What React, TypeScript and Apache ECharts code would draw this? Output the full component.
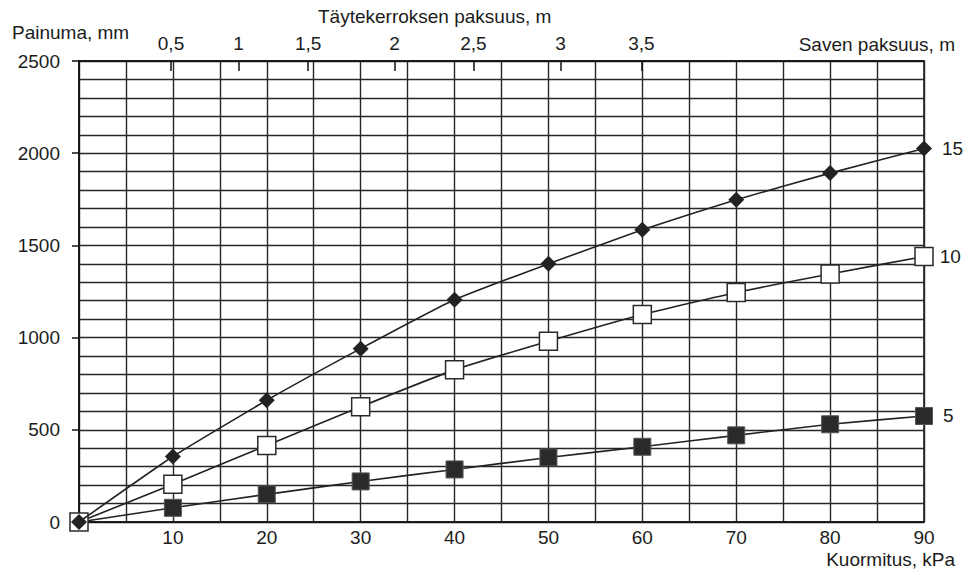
import { useEffect, useRef } from 'react';
import * as echarts from 'echarts';

// Load (kPa) at which the settlement was computed
const loads = [0, 10, 20, 30, 40, 50, 60, 70, 80, 90];

// Settlement (mm) for clay layer thickness 15 m, 10 m and 5 m
const settlement15 = [0, 355, 660, 940, 1205, 1400, 1585, 1748, 1892, 2025];
const settlement10 = [0, 205, 415, 625, 825, 980, 1125, 1245, 1345, 1440];
const settlement5 = [0, 77, 150, 220, 285, 350, 408, 470, 530, 575];

// Fill thickness (m) scale along the top edge, placed at the matching load
const fillTickLoads = [9.8, 17, 24.4, 33.6, 42, 51.3, 59.9];
const fillTickLabels = ['0,5', '1', '1,5', '2', '2,5', '3', '3,5'];

// Labelled values on the axes
const loadLabels = [10, 20, 30, 40, 50, 60, 70, 80, 90];

const FONT = "'Liberation Sans', Arial, Helvetica, sans-serif";
const INK = '#1c1c1c';
const GRIDLINE = '#262626';
const FS = 19;

function pairs(values: number[]) {
  return loads.map((x, i) => {
    if (i === loads.length - 1) {
      return { value: [x, values[i]], label: { show: true } };
    }
    return { value: [x, values[i]] };
  });
}

export default function App() {
  const ref = useRef<HTMLDivElement>(null);

  useEffect(() => {
    document.body.style.margin = '0';
    const chart = echarts.init(ref.current!, null, { renderer: 'svg' });

    const textStyle = { fontFamily: FONT, fontSize: FS, color: INK };
    const plain = (v: number) => String(v);

    chart.setOption({
      animation: false,
      backgroundColor: '#ffffff',
      textStyle: { fontFamily: FONT },
      grid: {
        left: 79,
        right: 40,
        top: 61,
        bottom: 50,
        show: true,
        borderColor: '#111111',
        borderWidth: 1.5,
        backgroundColor: 'transparent',
      },
      xAxis: [
        {
          type: 'value',
          position: 'bottom',
          min: 0,
          max: 90,
          interval: 5,
          axisLine: { show: true, onZero: false, lineStyle: { color: '#111111', width: 1.5 } },
          axisTick: { show: false },
          axisLabel: {
            customValues: loadLabels,
            margin: 6,
            formatter: plain,
            ...textStyle,
          },
          splitLine: { show: true, lineStyle: { color: GRIDLINE, width: 1.4 } },
        },
        {
          type: 'value',
          position: 'top',
          min: 0,
          max: 90,
          axisLine: { show: true, onZero: false, lineStyle: { color: '#111111', width: 1.5 } },
          axisTick: {
            show: true,
            customValues: fillTickLoads,
            inside: true,
            length: 10,
            lineStyle: { color: '#111111', width: 1.5 },
          },
          axisLabel: {
            customValues: fillTickLoads,
            margin: 8,
            formatter: (v: number) => {
              let best = 0;
              fillTickLoads.forEach((t, i) => {
                if (Math.abs(t - v) < Math.abs(fillTickLoads[best] - v)) best = i;
              });
              return fillTickLabels[best];
            },
            ...textStyle,
          },
          splitLine: { show: false },
        },
      ],
      yAxis: [
        {
          // fine 100 mm grid
          type: 'value',
          position: 'left',
          min: 0,
          max: 2500,
          interval: 100,
          axisLine: { show: true, onZero: false, lineStyle: { color: '#111111', width: 1.5 } },
          axisTick: { show: false },
          axisLabel: { show: false },
          splitLine: { show: true, lineStyle: { color: GRIDLINE, width: 1.4 } },
        },
        {
          // labelled 500 mm steps with outward ticks
          type: 'value',
          position: 'left',
          offset: 0,
          min: 0,
          max: 2500,
          interval: 500,
          axisLine: { show: false, onZero: false },
          axisTick: {
            show: true,
            length: 7,
            lineStyle: { color: '#111111', width: 1.5 },
          },
          axisLabel: {
            margin: 19,
            formatter: plain,
            ...textStyle,
          },
          splitLine: { show: false },
        },
      ],
      graphic: [
        {
          type: 'text',
          left: 12,
          top: 23,
          style: { text: 'Painuma, mm', font: `${FS}px ${FONT}`, fill: INK },
        },
        {
          type: 'text',
          left: 318,
          top: 7,
          style: { text: 'Täytekerroksen paksuus, m', font: `${FS}px ${FONT}`, fill: INK },
        },
        {
          type: 'text',
          right: 9,
          top: 35,
          style: { text: 'Saven paksuus, m', font: `${FS}px ${FONT}`, fill: INK },
        },
        {
          type: 'text',
          right: 9,
          top: 550,
          style: { text: 'Kuormitus, kPa', font: `${FS}px ${FONT}`, fill: INK },
        },
      ],
      series: [
        {
          name: '5',
          type: 'line',
          xAxisIndex: 0,
          yAxisIndex: 0,
          data: pairs(settlement5),
          smooth: 0.15,
          clip: false,
          symbol: 'rect',
          symbolSize: 17,
          lineStyle: { color: '#222222', width: 1.6 },
          itemStyle: { color: '#2a2a2a', borderColor: '#555555', borderWidth: 1 },
          label: { show: false, position: 'right', distance: 10, formatter: '{a}', ...textStyle },
          z: 3,
        },
        {
          name: '10',
          type: 'line',
          xAxisIndex: 0,
          yAxisIndex: 0,
          data: pairs(settlement10),
          smooth: 0.15,
          clip: false,
          symbol: 'rect',
          symbolSize: 18,
          lineStyle: { color: '#222222', width: 1.6 },
          itemStyle: { color: '#ffffff', borderColor: '#2a2a2a', borderWidth: 1.5 },
          label: { show: false, position: 'right', distance: 6, formatter: '{a}', ...textStyle },
          z: 4,
        },
        {
          name: '15',
          type: 'line',
          xAxisIndex: 0,
          yAxisIndex: 0,
          data: pairs(settlement15),
          smooth: 0.15,
          clip: false,
          symbol: 'diamond',
          symbolSize: 16,
          lineStyle: { color: '#222222', width: 1.6 },
          itemStyle: { color: '#222222' },
          label: { show: false, position: 'right', distance: 10, formatter: '{a}', ...textStyle },
          z: 5,
        },
      ],
    });

    return () => chart.dispose();
  }, []);

  return <div ref={ref} style={{ width: 964, height: 572 }} />;
}
